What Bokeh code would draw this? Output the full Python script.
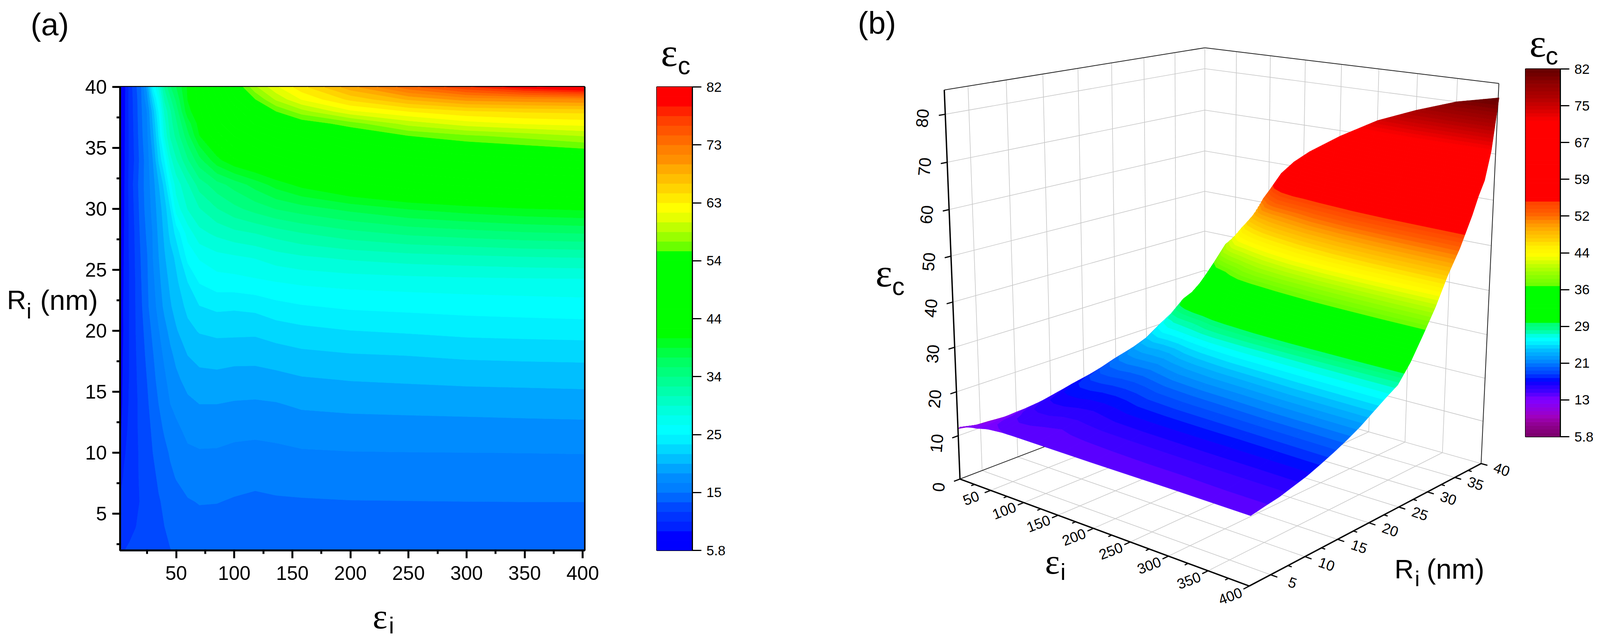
import numpy as np
from bokeh.core.properties import value
from bokeh.embed import file_html
from bokeh.models import ColumnDataSource, FixedTicker, Range1d
from bokeh.plotting import figure
from bokeh.plotting.contour import contour_data
from bokeh.resources import INLINE

# ---------- values ----------
epsilon_i = [2, 5, 10, 15, 20, 25, 30, 35, 40, 45, 50, 60, 70, 85, 100, 118, 136, 158, 200, 250, 300, 350, 401]
radius_nm = [2, 4, 6, 8, 10, 12, 14, 16, 18, 20, 22, 24, 26, 28, 30, 32, 34, 36, 37, 38, 39, 40]

eps_c_r02 = [11.6, 12.1, 12.4, 12.6, 12.8, 13.0, 13.1, 13.3, 13.5, 13.7, 13.85, 14.0, 14.15, 14.2, 14.2, 14.2, 14.2, 14.2, 14.2, 14.25, 14.3, 14.3, 14.3]
eps_c_r04 = [11.0, 11.3, 11.7, 12.1, 12.5, 12.8, 13.1, 13.4, 13.74, 14.1, 14.4, 14.7, 14.85, 14.8, 14.6, 14.5, 14.6, 14.7, 14.75, 14.8, 14.8, 14.85, 14.85]
eps_c_r06 = [10.8, 11.1, 11.5, 11.8, 12.3, 12.75, 13.15, 13.6, 14.0, 14.4, 14.7, 15.2, 15.4, 15.37, 15.2, 15.0, 15.15, 15.2, 15.28, 15.3, 15.32, 15.33, 15.33]
eps_c_r08 = [9.9, 10.75, 11.3, 11.85, 12.4, 13.0, 13.35, 14.0, 14.6, 15.0, 15.4, 15.95, 16.05, 16.05, 15.8, 15.73, 15.83, 15.95, 16.0, 16.05, 16.1, 16.12, 16.15]
eps_c_r10 = [9.2, 10.3, 11.2, 11.8, 12.5, 13.1, 13.74, 14.33, 14.9, 15.5, 16.0, 16.6, 16.78, 16.74, 16.54, 16.4, 16.55, 16.75, 16.85, 16.88, 16.9, 16.92, 16.95]
eps_c_r12 = [8.6, 9.8, 11.0, 11.85, 12.6, 13.2, 14.04, 14.8, 15.55, 16.1, 16.55, 17.4, 17.56, 17.59, 17.38, 17.34, 17.44, 17.7, 17.83, 17.9, 17.93, 18.0, 18.06]
eps_c_r14 = [8.2, 9.6, 10.8, 11.8, 12.7, 13.4, 14.6, 15.33, 16.2, 16.9, 17.4, 18.1, 18.5, 18.5, 18.35, 18.28, 18.4, 18.74, 18.92, 19.0, 19.1, 19.18, 19.26]
eps_c_r16 = [8.0, 9.5, 10.7, 11.85, 13.0, 13.75, 14.85, 15.8, 16.6, 17.5, 18.1, 19.1, 19.55, 19.6, 19.42, 19.4, 19.56, 19.9, 20.15, 20.3, 20.45, 20.52, 20.6]
eps_c_r18 = [7.8, 9.4, 10.7, 12.0, 13.0, 14.1, 15.2, 16.2, 17.2, 18.1, 18.9, 20.1, 20.6, 20.76, 20.62, 20.6, 20.9, 21.26, 21.54, 21.7, 21.94, 22.05, 22.12]
eps_c_r20 = [7.6, 9.2, 10.7, 12.1, 13.2, 14.5, 15.65, 16.8, 17.9, 19.0, 19.9, 21.2, 21.8, 22.05, 22.05, 22.0, 22.44, 22.8, 23.22, 23.45, 23.73, 23.85, 23.96]
eps_c_r22 = [7.5, 9.3, 10.7, 12.15, 13.5, 15.0, 16.2, 17.5, 18.9, 19.9, 20.7, 22.1, 23.2, 23.6, 23.5, 23.7, 24.3, 24.7, 25.1, 25.3, 25.5, 25.65, 25.8]
eps_c_r24 = [7.4, 9.1, 10.7, 12.2, 13.7, 15.1, 16.5, 18.0, 19.4, 20.4, 21.3, 23.26, 24.95, 25.7, 25.8, 26.1, 26.4, 26.7, 27.0, 27.2, 27.35, 27.45, 27.5]
eps_c_r26 = [7.2, 9.0, 10.8, 12.3, 13.9, 15.2, 16.9, 18.45, 19.9, 21.0, 22.0, 25.3, 26.6, 27.4, 27.7, 28.1, 28.8, 29.3, 29.9, 30.4, 30.7, 31.0, 31.2]
eps_c_r28 = [7.0, 8.9, 10.9, 12.4, 14.2, 15.6, 17.0, 18.85, 20.4, 22.1, 23.7, 27.1, 29.1, 30.0, 30.7, 31.2, 31.9, 32.7, 33.8, 34.7, 35.2, 35.7, 36.0]
eps_c_r30 = [6.9, 8.8, 11.0, 12.6, 14.5, 16.0, 17.4, 19.3, 20.9, 23.2, 27.1, 29.7, 31.1, 32.7, 33.9, 35.0, 36.0, 36.8, 38.0, 39.2, 40.0, 40.6, 41.0]
eps_c_r32 = [6.8, 8.7, 11.1, 12.9, 14.7, 16.1, 17.8, 20.0, 22.2, 25.9, 28.7, 31.0, 33.5, 35.3, 36.6, 38.2, 39.8, 41.3, 43.3, 44.9, 45.9, 46.5, 47.0]
eps_c_r34 = [6.7, 8.6, 11.0, 12.5, 14.5, 16.2, 18.5, 21.9, 24.85, 29.0, 31.0, 34.2, 37.0, 40.2, 42.1, 43.3, 44.6, 45.9, 48.0, 49.7, 50.7, 51.4, 52.0]
eps_c_r36 = [6.6, 8.5, 11.0, 12.7, 14.9, 16.6, 19.6, 23.4, 28.3, 31.4, 33.2, 37.0, 40.7, 43.3, 45.6, 47.5, 49.2, 50.5, 53.0, 55.0, 56.3, 57.2, 58.3]
eps_c_r37 = [6.58, 8.45, 11.05, 12.8, 15.0, 16.8, 20.2, 24.0, 29.0, 32.0, 34.0, 38.3, 41.4, 44.7, 47.7, 50.5, 52.5, 53.8, 55.8, 58.8, 60.6, 61.5, 62.0]
eps_c_r38 = [6.55, 8.4, 11.1, 12.9, 15.1, 17.0, 20.8, 25.0, 30.0, 32.5, 35.0, 40.2, 42.0, 45.8, 49.0, 52.5, 55.0, 57.5, 61.0, 63.0, 64.3, 64.8, 65.0]
eps_c_r39 = [6.52, 8.3, 11.15, 13.0, 15.2, 18.0, 22.5, 26.5, 31.5, 34.0, 36.3, 40.8, 42.8, 47.0, 51.5, 55.0, 58.5, 61.5, 65.0, 68.0, 70.0, 70.5, 71.0]
eps_c_r40 = [6.5, 8.2, 11.2, 13.3, 15.33, 19.0, 24.9, 28.5, 33.0, 35.8, 37.5, 41.0, 43.0, 48.5, 53.0, 57.8, 61.0, 64.0, 68.7, 73.5, 77.0, 80.0, 82.0]

eps_c_rows = [eps_c_r02, eps_c_r04, eps_c_r06, eps_c_r08, eps_c_r10, eps_c_r12, eps_c_r14, eps_c_r16,
              eps_c_r18, eps_c_r20, eps_c_r22, eps_c_r24, eps_c_r26, eps_c_r28, eps_c_r30, eps_c_r32,
              eps_c_r34, eps_c_r36, eps_c_r37, eps_c_r38, eps_c_r39, eps_c_r40]

scale_min, scale_max = 5.8, 82.0

palette_a = ["#0000ff", "#0000ff", "#0022ff", "#0033ff", "#0048ff", "#0066ff", "#007fff", "#008cff",
             "#00a4ff", "#00bfff", "#00d8ff", "#00f0ff", "#00ffff", "#00fff0", "#00ffdc", "#00ffc4",
             "#00ffac", "#00ff94", "#00ff7c", "#00ff64", "#00ff44", "#00ff22", "#00ff00", "#00ff00",
             "#00ff00", "#00ff00", "#00ff00", "#00ff00", "#00ff00", "#00ff00", "#00ff00", "#6aff00",
             "#99ff00", "#bfff00", "#e6ff00", "#ffff00", "#ffea00", "#ffd400", "#ffbf00", "#ffaa00",
             "#ff9000", "#ff8000", "#ff6a00", "#ff5500", "#ff4000", "#ff2200", "#ff0000", "#ff0000"]

stops_b_value = [5.8, 8.3, 10.05, 11.5, 13.2, 14.39, 14.41, 15.1, 16.56, 17.3, 18.15, 18.7, 20.2, 21.04, 22.5,
                 23.9, 24.8, 25.7, 26.4, 27.1, 28.0, 29.39, 29.41, 36.99, 37.01, 39.3, 41.6, 43.3, 45.3,
                 46.8, 47.7, 49.2, 50.9, 51.5, 53.2, 54.69, 54.71, 71.2, 73.5, 76.1, 79.0, 81.0, 82.0]
stops_b_color = ["#7a0068", "#8f0090", "#a000c0", "#9000e0", "#8000ff", "#7000ff", "#6000ff", "#4400ff", "#2000ff",
                 "#0000ff", "#0020ff", "#0040ff", "#0060ff", "#0080ff", "#00a0ff", "#00c0ff", "#00e0ff", "#00ffff",
                 "#00ffff", "#00ffc8", "#00ff90", "#00ff70", "#00ff00", "#00ff00", "#66ff00", "#90ff00", "#c8ff00",
                 "#ffff00", "#ffee00", "#ffcc00", "#ffc000", "#ffa500", "#ff8000", "#ff6a00", "#ff5000", "#ff4000",
                 "#ff0000", "#ff0000", "#d80000", "#b00000", "#900000", "#700000", "#660000"]

x_ticks_a = [50, 100, 150, 200, 250, 300, 350, 400]
x_minor_a = [25, 75, 125, 175, 225, 275, 325, 375]
y_ticks_a = [5, 10, 15, 20, 25, 30, 35, 40]
y_minor_a = [2.5, 7.5, 12.5, 17.5, 22.5, 27.5, 32.5, 37.5]
cbar_a_labels = ["5.8", "15", "25", "34", "44", "54", "63", "73", "82"]
cbar_b_labels = ["5.8", "13", "21", "29", "36", "44", "52", "59", "67", "75", "82"]

eps_ticks_b = [50, 100, 150, 200, 250, 300, 350, 400]
eps_minor_b = [25, 75, 125, 175, 225, 275, 325, 375]
r_ticks_b = [5, 10, 15, 20, 25, 30, 35, 40]
r_minor_b = [7.5, 12.5, 17.5, 22.5, 27.5, 32.5, 37.5]
z_ticks_b = [0, 10, 20, 30, 40, 50, 60, 70, 80]

box_corner_data = [(2, 2, 0), (400, 2, 0), (400, 40, 0), (2, 40, 0), (2, 2, 85), (2, 40, 85), (400, 40, 85)]
box_corner_page = [(2548, 1219), (3316, 1505), (3932, 1179), (3198, 993), (2507, 231), (3198, 119), (3979, 215)]

SANS = "Liberation Sans"
SERIF = "Liberation Serif"

# The browser window is 4096 px wide: everything is laid out on the reference's
# 4248 px coordinates and squeezed to that width.
K = 4096 / 4248

E = np.array(epsilon_i, float)
R = np.array(radius_nm, float)
Z = np.array(eps_c_rows, float)


def bands(x, y, z, levels, colors):
    fd = contour_data(x, y, z, levels, want_fill=True, want_line=False).fill_data
    xs, ys, cs = [], [], []
    for k in range(len(levels) - 1):
        if len(fd.xs[k]) == 0:
            continue
        xs.append([[np.asarray(a).tolist() for a in poly] for poly in fd.xs[k]])
        ys.append([[np.asarray(a).tolist() for a in poly] for poly in fd.ys[k]])
        cs.append(colors[k])
    return xs, ys, cs


def hex_rgb(c):
    return [int(c[i:i + 2], 16) for i in (1, 3, 5)]


def palette_b(n):
    mids = scale_min + (np.arange(n) + 0.5) * (scale_max - scale_min) / n
    rgb = np.array([hex_rgb(c) for c in stops_b_color], float)
    out = []
    for m in mids:
        v = [int(round(np.interp(m, stops_b_value, rgb[:, i]))) for i in range(3)]
        out.append("#%02x%02x%02x" % tuple(v))
    return out


def fit_camera():
    rows = []
    for (e, r, z), (u, v) in zip(box_corner_data, box_corner_page):
        X = [e / 400, r / 40, z / 85, 1]
        u, v = u / 1000, v / 1000
        rows.append(X + [0, 0, 0, 0] + [-u * c for c in X])
        rows.append([0, 0, 0, 0] + X + [-v * c for c in X])
    return np.linalg.svd(np.array(rows))[2][-1].reshape(3, 4)


CAM = fit_camera()


def proj(e, r, z):
    e, r, z = np.asarray(e, float), np.asarray(r, float), np.asarray(z, float)
    h = np.stack([e / 400, r / 40, z / 85, np.ones_like(e * r * z)], axis=-1) @ CAM.T
    return 1000 * h[..., 0] / h[..., 2], 1000 * h[..., 1] / h[..., 2]


def place(left, top):
    return {"position": "absolute", "left": f"{left}px", "top": f"{top}px"}


# ---------- panel (a) ----------
levels_a = np.linspace(scale_min, scale_max, len(palette_a) + 1)
fa = figure(width=1564, height=1632, min_border_left=299, min_border_right=76, min_border_top=214,
            min_border_bottom=232, x_range=Range1d(1.72, 401.6), y_range=Range1d(2, 40),
            toolbar_location=None, output_backend="svg", styles=place(8, 8))
xs, ys, cs = bands(E, R, Z, levels_a, palette_a)
fa.multi_polygons(xs="xs", ys="ys", fill_color="c", line_color="c", line_width=1,
                  source=ColumnDataSource(dict(xs=xs, ys=ys, c=cs)))
fa.grid.visible = False
fa.outline_line_color = "black"
fa.outline_line_width = 5
for ax, t, m in ((fa.xaxis, x_ticks_a, x_minor_a), (fa.yaxis, y_ticks_a, y_minor_a)):
    ax.ticker = FixedTicker(ticks=t, minor_ticks=m)
    ax.major_tick_line_width = 5
    ax.minor_tick_line_width = 5
    ax.major_tick_out = 20
    ax.major_tick_in = 0
    ax.minor_tick_out = 9
    ax.minor_tick_in = 0
    ax.axis_line_width = 5
    ax.major_tick_line_color = "black"
    ax.minor_tick_line_color = "black"
    ax.major_label_text_font = SANS
    ax.major_label_text_font_size = "50px"
    ax.major_label_text_color = "black"
fa.xaxis.major_label_standoff = 20
fa.yaxis.major_label_standoff = 14


# ---------- colour bars ----------
def colorbar(palette, labels, width, left, right, top, bottom, tick_out, outline, page_left):
    f = figure(width=width, height=1632, min_border_left=left, min_border_right=right,
               min_border_top=top, min_border_bottom=bottom, x_range=Range1d(0, 1),
               y_range=Range1d(scale_min, scale_max), x_axis_location=None, y_axis_location="right",
               toolbar_location=None, output_backend="svg", styles=place(page_left, 8))
    edges = np.linspace(scale_min, scale_max, len(palette) + 1)
    f.quad(left=0, right=1, bottom=edges[:-1], top=edges[1:], fill_color=palette, line_color=palette, line_width=1)
    f.grid.visible = False
    ticks = np.linspace(scale_min, scale_max, len(labels)).tolist()
    ax = f.yaxis[0]
    ax.ticker = FixedTicker(ticks=ticks)
    ax.major_label_overrides = {t: s for t, s in zip(ticks, labels)}
    ax.major_tick_out = tick_out
    ax.major_tick_in = 0
    ax.major_tick_line_width = 3
    ax.major_tick_line_color = "black"
    ax.minor_tick_line_color = None
    ax.axis_line_width = outline
    ax.major_label_standoff = 13
    ax.major_label_text_font = SANS
    ax.major_label_text_font_size = "35px"
    ax.major_label_text_color = "black"
    f.outline_line_color = "black"
    f.outline_line_width = outline
    return f


ca = colorbar(palette_a, cbar_a_labels, 308, 109, 108, 214, 232, 23, 3, 1572)
pal_b = palette_b(100)
cb = colorbar(pal_b, cbar_b_labels, 193, 10, 94, 168, 523, 23, 3, 3895)

# ---------- panel (b) and all free texts: one transparent page-sized figure ----------
fb = figure(width=4080, height=1632, min_border=0, x_range=Range1d(8 / K, 4088 / K), y_range=Range1d(1640, 8),
            x_axis_location=None, y_axis_location=None, toolbar_location=None, output_backend="svg",
            background_fill_color=None, border_fill_color=None, styles=place(8, 8))
fb.grid.visible = False
fb.outline_line_color = None


def seg(fig, a, b, color, width):
    a, b = np.array(a, float).T, np.array(b, float).T
    x0, y0 = proj(*a)
    x1, y1 = proj(*b)
    fig.segment(x0, y0, x1, y1, line_color=color, line_width=width)


e0, e1, r0, r1, ztop = 2, 400, 2, 40, 85
GRID = "#c8c8c8"
grid_a, grid_b = [], []
for r in r_ticks_b[:-1]:
    grid_a.append((e0, r, 0)); grid_b.append((e0, r, ztop))
for e in eps_ticks_b[:-1]:
    grid_a.append((e, r1, 0)); grid_b.append((e, r1, ztop))
grid_a.append((e0, r1, 0)); grid_b.append((e0, r1, ztop))
for z in z_ticks_b[1:]:
    grid_a.append((e0, r0, z)); grid_b.append((e0, r1, z))
    grid_a.append((e0, r1, z)); grid_b.append((e1, r1, z))
for e in eps_ticks_b[:-1]:
    grid_a.append((e, r0, 0)); grid_b.append((e, r1, 0))
for r in r_ticks_b:
    grid_a.append((e0, r, 0)); grid_b.append((e1, r, 0))
seg(fb, grid_a, grid_b, GRID, 1.6)
seg(fb, [(e0, r0, ztop), (e0, r1, ztop), (e1, r1, ztop), (e0, r0, 0)],
    [(e0, r1, ztop), (e1, r1, ztop), (e1, r1, 0), (e0, r1, 0)], "#222222", 2)

levels_b = np.linspace(scale_min, scale_max, len(pal_b) + 1)
all_x, all_y, all_c = [], [], []
for j in range(len(E) - 1):
    ee, rr = np.meshgrid(E[j:j + 2], R)
    zz = Z[:, j:j + 2]
    px_, py_ = proj(ee, rr, zz)
    xs, ys, cs = bands(px_, py_, zz, levels_b, pal_b)
    all_x += xs; all_y += ys; all_c += cs
fb.multi_polygons(xs="xs", ys="ys", fill_color="c", line_color="c", line_width=1,
                  source=ColumnDataSource(dict(xs=all_x, ys=all_y, c=all_c)))

seg(fb, [(e0, r0, 0), (e1, r0, 0), (e0, r0, 0)], [(e1, r0, 0), (e1, r1, 0), (e0, r0, ztop)], "black", 3.5)
seg(fb, [(e, r0, 0) for e in eps_ticks_b], [(e, r0 - 0.8, 0) for e in eps_ticks_b], "black", 3)
seg(fb, [(e, r0, 0) for e in eps_minor_b], [(e, r0 - 0.45, 0) for e in eps_minor_b], "black", 3)
seg(fb, [(e1, r, 0) for r in r_ticks_b], [(e1 + 8, r, 0) for r in r_ticks_b], "black", 3)
seg(fb, [(e1, r, 0) for r in r_minor_b], [(e1 + 4.5, r, 0) for r in r_minor_b], "black", 3)
seg(fb, [(e0, r0, z) for z in z_ticks_b], [(e0, r0 - 0.8, z) for z in z_ticks_b], "black", 3)


def texts(fig, pts, labels, angle, size):
    x, y = proj(*np.array(pts, float).T)
    fig.text(x, y, text=labels, angle=angle, text_font=value(SANS), text_font_size=value(f"{size}px"),
             text_color="black", text_align="center", text_baseline="middle")


texts(fb, [(e, r0 - 2.6, 0) for e in eps_ticks_b], [str(e) for e in eps_ticks_b], np.radians(21), 37)
texts(fb, [(e1 + 26, r, 0) for r in r_ticks_b], [str(r) for r in r_ticks_b], np.radians(-19), 37)
texts(fb, [(e0, r0 - 2.8, z) for z in z_ticks_b], [str(z) for z in z_ticks_b], np.radians(85), 43)

free_text = [(81, 62, "(a)", 80, SANS), (18, 766, "R", 68, SANS), (70, 795, "i", 56, SANS), (106, 767, "(nm)", 72, SANS),
             (989, 1577, "ε", 90, SERIF), (1032, 1600, "i", 60, SANS), (1754, 134, "ε", 102, SERIF), (1799, 167, "c", 64, SANS),
             (2277, 58, "(b)", 80, SANS), (2324, 698, "ε", 102, SERIF), (2368, 732, "c", 64, SANS),
             (2774, 1437, "ε", 90, SERIF), (2815, 1463, "i", 60, SANS), (3702, 1455, "R", 68, SANS),
             (3756, 1480, "i", 56, SANS), (3787, 1455, "(nm)", 72, SANS),
             (4060, 110, "ε", 102, SERIF), (4103, 142, "c", 64, SANS)]
for px, py, text, size, font in free_text:
    fb.text([px], [py], text=[text], text_font=value(font), text_font_size=value(f"{size}px"), text_color="black",
            text_align="left", text_baseline="middle")

open("out.html", "w").write(file_html([fa, ca, cb, fb], INLINE))
